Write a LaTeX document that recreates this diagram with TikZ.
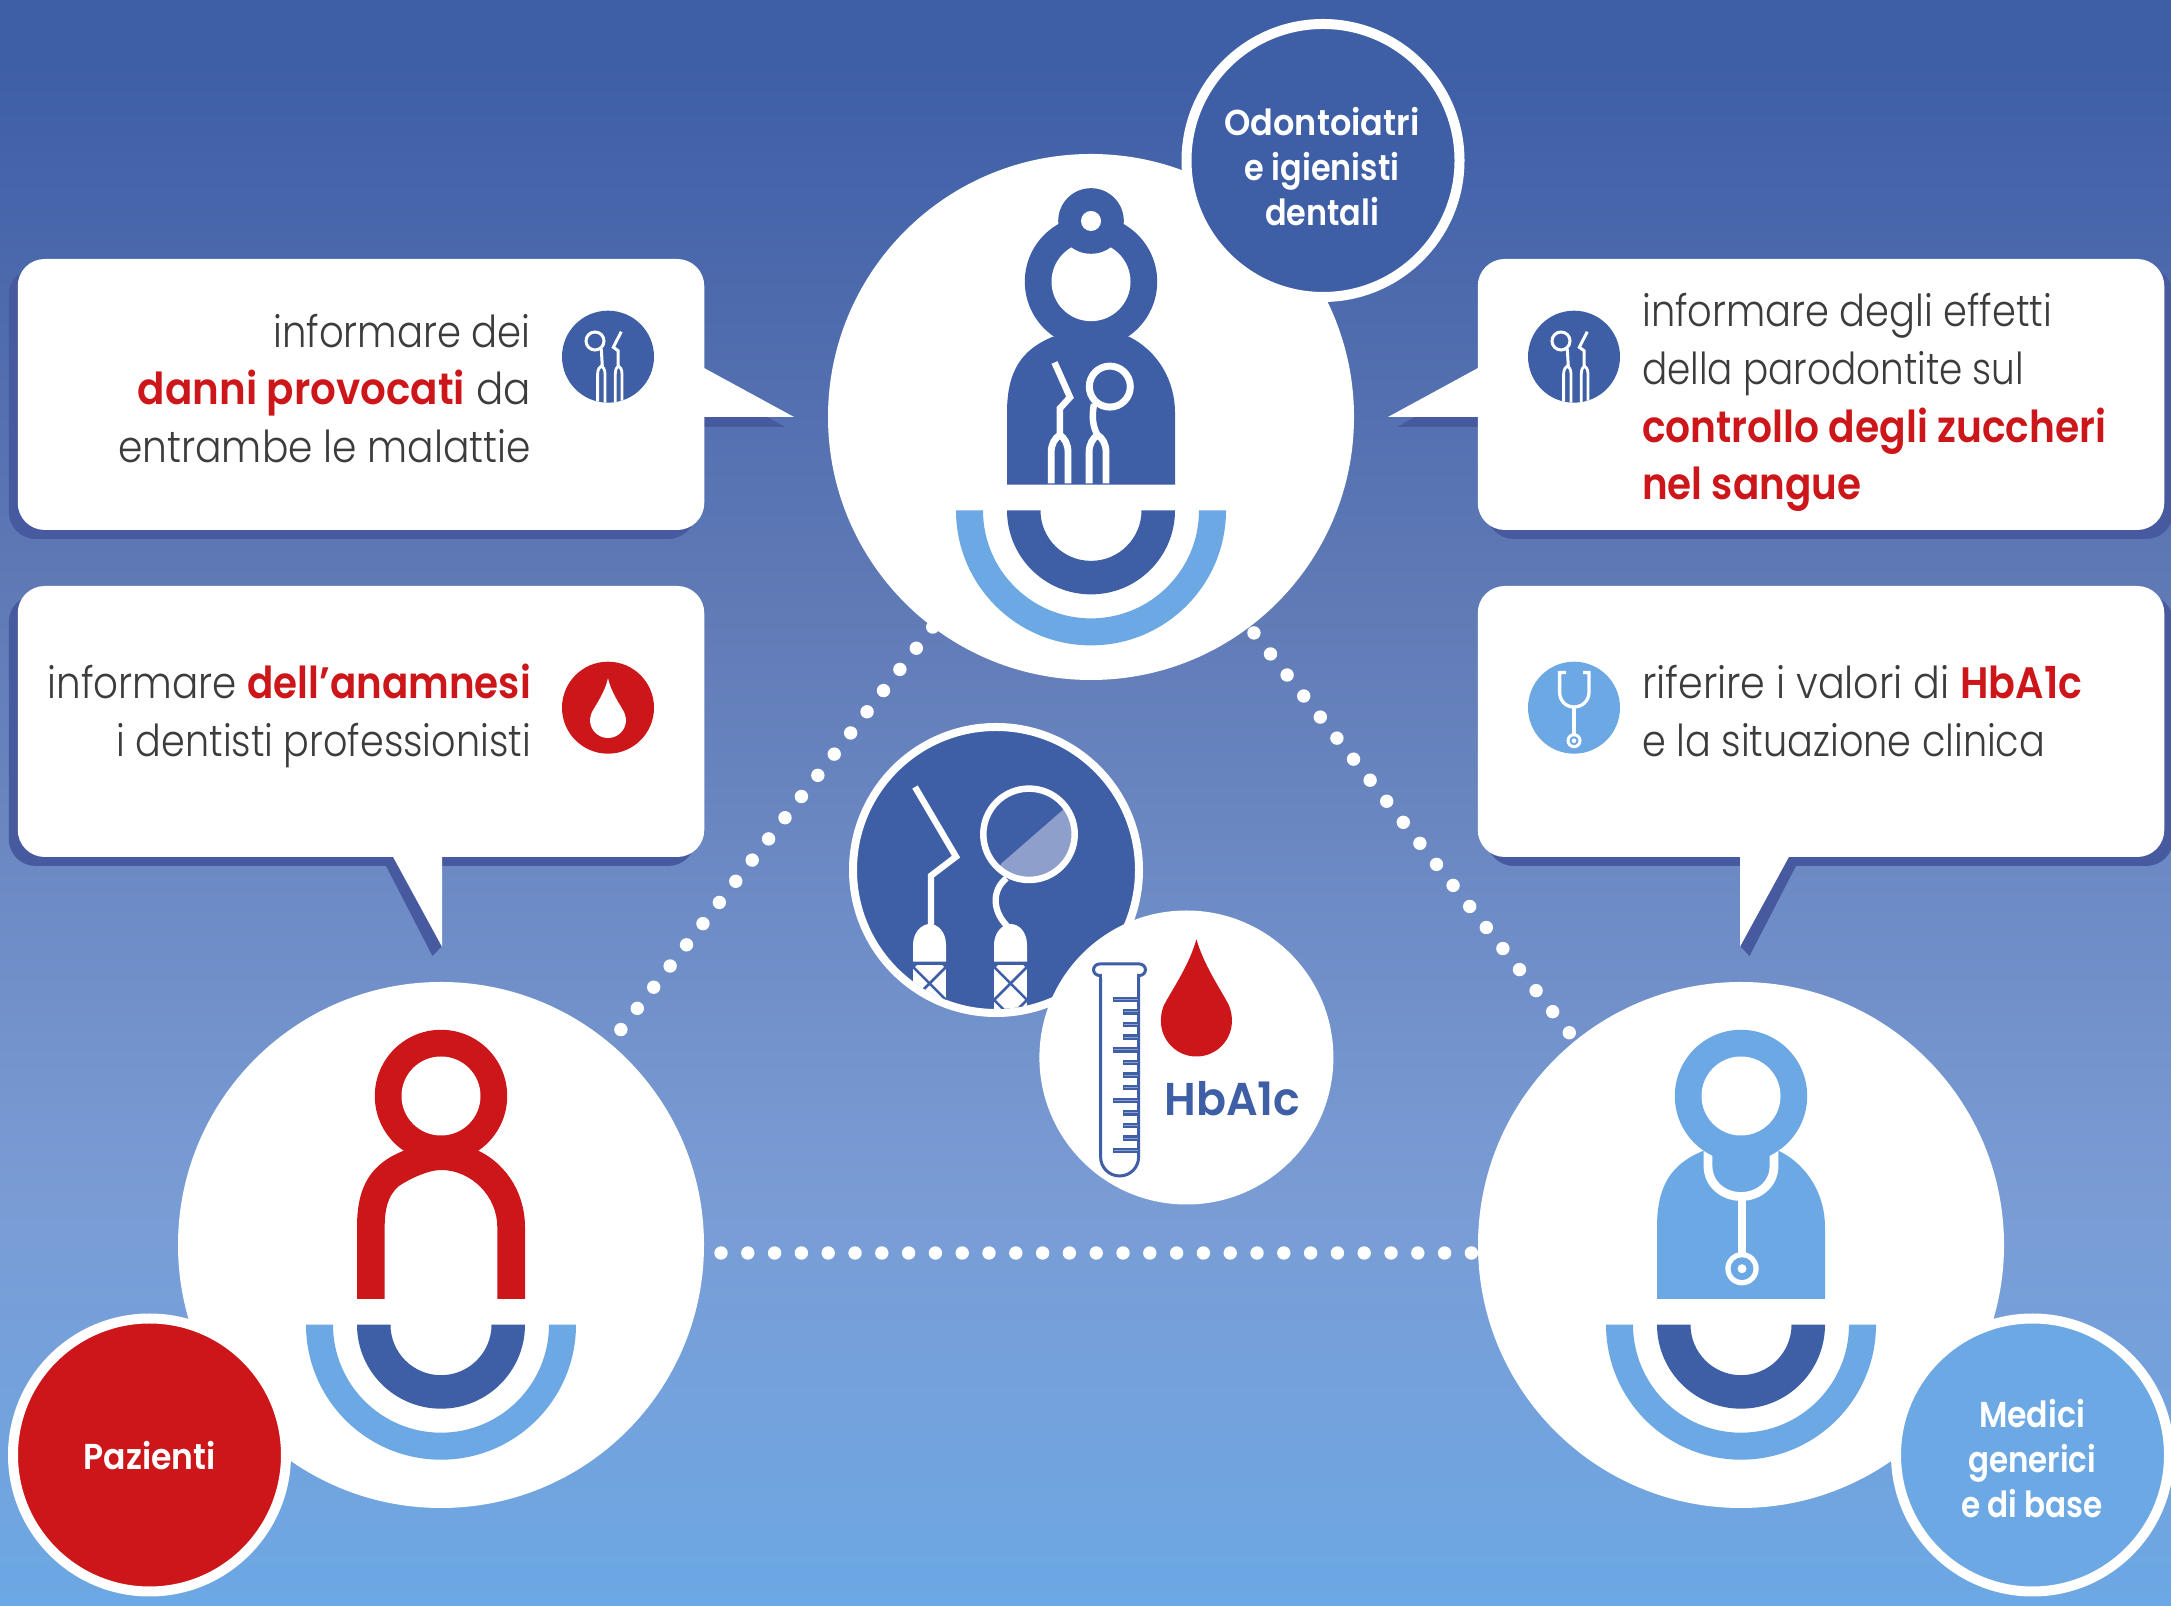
\documentclass[tikz,border=0pt]{standalone}
\usepackage{fontspec}
\usepackage{graphicx}
\setmainfont{Poppins}[UprightFont=* Light,BoldFont=* SemiBold]
\newfontfamily\medfont{Poppins}[UprightFont=* SemiBold,BoldFont=* Bold]
\definecolor{blueD}{HTML}{3E5EA6}
\definecolor{blueL}{HTML}{6CA8E4}
\definecolor{redC}{HTML}{CC1619}
\definecolor{shadowC}{HTML}{47599F}
\definecolor{textC}{HTML}{3C3C3B}
\definecolor{wedgeC}{HTML}{8F9FCB}
\definecolor{gradA}{RGB}{122,156,213}
\definecolor{gradB}{RGB}{96,122,182}
\pgfdeclareverticalshading{bggrad}{100bp}{%
 color(0bp)=(blueL);color(25bp)=(blueL);
 color(37.6bp)=(gradA);
 color(56.3bp)=(gradB);
 color(73bp)=(blueD);color(100bp)=(blueD)}
\newcommand{\fw}[2]{\resizebox{#1pt}{\height}{#2}}
\newcommand{\rb}[1]{\textcolor{redC}{\textbf{#1}}}
\tikzset{
 bigcirc/.style={circle,fill=white,minimum size=526pt,inner sep=0pt,outer sep=0pt},
 badge/.style={circle,draw=white,line width=10pt,fill=#1,minimum size=273pt,inner sep=0pt,outer sep=0pt},
 callout/.style={rectangle,rounded corners=27pt,fill=white,minimum width=686.5pt,minimum height=271pt,inner sep=0pt,outer sep=0pt},
 calloutshadow/.style={rectangle,rounded corners=27pt,fill=shadowC,minimum width=686.5pt,minimum height=271pt,inner sep=0pt},
 icondisc/.style={circle,fill=#1,minimum size=92pt,inner sep=0pt,outer sep=0pt},
 dotline/.style={white,line width=13.4pt,line cap=round,dash pattern=on 0pt off 26.8pt},
 bodytext/.style={text=textC,inner sep=0pt,font=\fontsize{44}{57.6}\selectfont},
 badgetext/.style={text=white,inner sep=0pt,align=center,font=\medfont\fontsize{36}{45}\selectfont},
 instr/.style={draw=white,line width=#1,line join=miter},
}
% person parts, origin at head centre
\newcommand{\bodyout}{(-84,203) -- (-84,131) .. controls (-84,90) and (-70,68) .. (-38,55) -- (38,55) .. controls (68,70) and (84,100) .. (84,131) -- (84,203) -- cycle}
\newcommand{\rings}{%
 \fill[blueD] (-84,228.7) arc[start angle=180,end angle=0,radius=84] -- (50.5,228.7) arc[start angle=0,end angle=180,radius=50.5] -- cycle;
 \fill[blueL] (-135,228.7) arc[start angle=180,end angle=0,radius=135] -- (108,228.7) arc[start angle=0,end angle=180,radius=108] -- cycle;}
\newcommand{\headring}[1]{%
 \fill[#1] (0,0) circle[radius=66.2];
 \fill[white] (0,0) circle[radius=39.5];}
\newcommand{\dentalicon}{%
 \begin{scope}
 \clip (1574,356.7) circle[radius=46];
 \draw[white,line width=3pt] (1561,341) circle[radius=9];
 \draw[white,line width=3pt] (1567.3,349) -- (1568.3,366);
 \draw[white,line width=2.8pt] (1563.6,405) -- (1563.6,374) .. controls (1563.6,369) and (1566,367) .. (1567.3,366) .. controls (1569,367) and (1571,369) .. (1571,374) -- (1571,405);
 \draw[white,line width=3pt] (1587.3,331.7) -- (1579.3,347.3) -- (1584,350.7) -- (1584,366);
 \draw[white,line width=2.8pt] (1581.3,405) -- (1581.3,374) .. controls (1581.3,369) and (1583,367) .. (1584.5,366) .. controls (1586,367) and (1588,369) .. (1588,374) -- (1588,405);
 \end{scope}}
\begin{document}
\begin{tikzpicture}
\useasboundingbox (0,0) rectangle (2171pt,1606pt);
\shade[shading=bggrad] (0,0) rectangle (2171pt,1606pt);
\begin{scope}[x=1pt,y=1pt,yscale=-1,shift={(0,-1606)}]
% callout shadows
\node[calloutshadow] (s1) at (352,403.5) {};
\node[calloutshadow] (s3) at (352,730.5) {};
\node[calloutshadow] (s2) at (1830,403.5) {};
\node[calloutshadow] (s4) at (1830,730.5) {};
\fill[shadowC] (704,417) -- (704,427) -- (785,427) -- (767,417) -- cycle;
\fill[shadowC] (1478,417) -- (1478,427) -- (1397,427) -- (1415,417) -- cycle;
\fill[shadowC] (384,862) -- (432.5,956) -- (442,946) -- (400,855) -- cycle;
\fill[shadowC] (1798,862) -- (1749.5,956) -- (1740,946) -- (1782,855) -- cycle;
% callouts
\node[callout] (b1) at (361,394.5) {};
\node[callout] (b3) at (361,721.5) {};
\node[callout] (b2) at (1821,394.5) {};
\node[callout] (b4) at (1821,721.5) {};
\coordinate (p1) at (794,417);
\coordinate (p2) at (1388,417);
\coordinate (p3) at (442,946.7);
\coordinate (p4) at (1740,946.7);
\fill[white] (704,368) -- (p1) -- (704,417) -- cycle;
\fill[white] (1478,368) -- (p2) -- (1478,417) -- cycle;
\fill[white] (392.6,856) -- (p3) -- (442,856) -- cycle;
\fill[white] (1789.4,856) -- (p4) -- (1740,856) -- cycle;
% big circles
\node[bigcirc] (dent) at (1091,417) {};
\node[bigcirc] (paz) at (441,1245) {};
\node[bigcirc] (med) at (1741,1245) {};
% dotted connectors
\coordinate (h1) at (704,1253);
\coordinate (h2) at (1478,1253);
\draw[dotline] (dent.233.1) -- (paz.50.4);
\draw[dotline,dash phase=19.3pt] (dent.307) -- (med.129);
\draw[dotline,dash phase=9.8pt] (h1) -- (h2);
% top figure
\begin{scope}[shift={(1091,281.7)}]
 \fill[blueD] \bodyout;
 \headring{blueD}
 \fill[blueD] (0,-60.7) circle[radius=32.8];
 \fill[white] (0,-60.7) circle[radius=10];
 \rings
\end{scope}
\draw[instr=6.5pt] (1054.5,362.5) -- (1070,397.3) -- (1059.8,408.5) -- (1059.8,436);
\draw[instr=6.8pt] (1051.2,483.5) -- (1051.2,452) .. controls (1051.2,444) and (1055,438) .. (1059.8,435) .. controls (1064.5,438) and (1068,444) .. (1068,452) -- (1068,483.5);
\draw[instr=7pt] (1109.8,386.6) circle[radius=20.5];
\draw[instr=6.5pt] (1094,404) .. controls (1092,415) and (1092,425) .. (1097.5,435);
\draw[instr=6.8pt] (1089.1,483.5) -- (1089.1,452) .. controls (1089.1,444) and (1093,438) .. (1097.5,435) .. controls (1102.5,438) and (1106,444) .. (1106,452) -- (1106,483.5);
% patient figure
\begin{scope}[shift={(441,1096)}]
 \fill[redC] (-84,203) -- (-84,131) .. controls (-84,90) and (-70,68) .. (-38,55) -- (38,55) .. controls (68,70) and (84,100) .. (84,131) -- (84,203) -- (56.3,203) -- (56.3,131) .. controls (56.3,100) and (30,74) .. (0,74) .. controls (-12,74) and (-30,82) .. (-42,90) .. controls (-54,100) and (-56.3,115) .. (-56.3,131) -- (-56.3,203) -- cycle;
 \headring{redC}
 \rings
\end{scope}
% GP figure
\begin{scope}[shift={(1741,1096)}]
 \fill[blueL] \bodyout;
 \draw[white,line width=8.8pt] (-33,48) -- (-33,70) .. controls (-33,88) and (-18,100.5) .. (0,100.5) .. controls (18,100.5) and (33,88) .. (33,70) -- (33,48);
 \headring{blueL}
 \draw[white,line width=8.8pt] (1,100) -- (1,160);
 \fill[white] (1,172.7) circle[radius=16.7];
 \fill[blueL] (1,172.7) circle[radius=11.4];
 \fill[white] (1,172.7) circle[radius=4.5];
 \rings
\end{scope}
% badges
\node[badge=blueD] (bdent) at (1323,160.5) {};
\node[badge=redC] (bpaz) at (149.5,1455) {};
\node[badge=blueL] (bmed) at (2032.5,1455) {};
\node[badgetext,anchor=base] (tdent) at (1322,225.5) {\fw{195}{Odontoiatri}\\\fw{155}{e igienisti}\\\fw{114}{dentali}};
\node[badgetext,anchor=base] (tpaz) at (149.5,1469.5) {\fw{132}{Pazienti}};
\node[badgetext,anchor=base] (tmed) at (2032,1517.5) {\fw{106}{Medici}\\\fw{128}{generici}\\\fw{142}{e di base}};
% central icon
\node[circle,draw=white,line width=8pt,fill=blueD,minimum size=286pt,inner sep=0pt,outer sep=0pt] (mirror) at (996,870) {};
\begin{scope}
 \clip (996,870) circle[radius=139];
 \fill[white] (913,961.7) -- (913,945) .. controls (913,932) and (922,924) .. (929.5,924) .. controls (938,924) and (946,932) .. (946,945) -- (946,961.7) -- cycle;
 \fill[white] (994,961.7) -- (994,945) .. controls (994,932) and (1003,924) .. (1010.5,924) .. controls (1019,924) and (1027,932) .. (1027,945) -- (1027,961.7) -- cycle;
 \fill[white] (913,965) rectangle (946,1030);
 \fill[white] (994,965) rectangle (1027,1030);
 \begin{scope}
  \clip (913,965) rectangle (946,1030);
  \foreach \k in {-1,0,1,2}{
   \draw[blueD,line width=2.5pt] (913,967+33*\k) -- (946,1000+33*\k);
   \draw[blueD,line width=2.5pt] (913,1000+33*\k) -- (946,967+33*\k);}
 \end{scope}
 \begin{scope}
  \clip (994,965) rectangle (1027,1030);
  \foreach \k in {-1,0,1,2}{
   \draw[blueD,line width=2.5pt] (994,967+33*\k) -- (1027,1000+33*\k);
   \draw[blueD,line width=2.5pt] (994,1000+33*\k) -- (1027,967+33*\k);}
 \end{scope}
\end{scope}
\draw[instr=6.3pt] (915,787) -- (956,856.7) -- (931,875.7) -- (931,928);
\begin{scope}
 \clip (1029,834.3) circle[radius=44];
 \fill[wedgeC] (1000.8,864) -- (1062.8,810) -- (1090,800) -- (1090,900) -- (1000,900) -- cycle;
\end{scope}
\draw[instr=6.5pt] (1029,834.3) circle[radius=45.7];
\draw[instr=6.3pt] (1006.5,878.3) .. controls (994,888) and (990,908) .. (1007,926);
% tube circle
\node[circle,fill=white,minimum size=294pt,inner sep=0pt,outer sep=0pt] (tube) at (1186.4,1057.5) {};
\draw[blueD,line width=3pt,fill=white] (1100.6,975.5) -- (1100.6,1157) arc[start angle=180,end angle=0,radius=19] -- (1138.6,975.5);
\draw[blueD,line width=3pt,fill=white,rounded corners=6pt] (1093.5,964) rectangle (1145.5,975.5);
\fill[white] (1102.1,973) rectangle (1137.1,978);
\foreach \i in {0,...,12}{
 \pgfmathsetmacro{\ty}{999.3+12.62*\i}
 \pgfmathtruncatemacro{\md}{mod(\i,4)}
 \ifnum\md=0
  \draw[blueD,line width=5.5pt] (1112.7,\ty) -- (1138.6,\ty);
  \draw[wedgeC,line width=1pt] (1114,\ty) -- (1138,\ty);
 \else
  \draw[blueD,line width=5.5pt] (1123,\ty) -- (1138.6,\ty);
  \draw[wedgeC,line width=1pt] (1124,\ty) -- (1138,\ty);
 \fi}
\fill[redC] (1196.4,939.3) .. controls (1189,965) and (1175,985) .. (1164,1005) .. controls (1161.5,1011) and (1160.9,1016) .. (1160.9,1021) arc[start angle=180,end angle=0,radius=35.5] .. controls (1231.9,1016) and (1231.3,1011) .. (1228.8,1005) .. controls (1218,985) and (1204,965) .. (1196.4,939.3) -- cycle;
\node[anchor=base west,inner sep=0pt,text=blueD] (hb) at (1164.4,1115.3) {\medfont\fontsize{46}{46}\selectfont\fw{136}{HbA1c}};
% small icons
\node[icondisc=blueD] (i1) at (608,356.7) {};
\node[icondisc=redC] (i3) at (608,707.7) {};
\node[icondisc=blueD] (i2) at (1574,356.7) {};
\node[icondisc=blueL] (i4) at (1574,707.7) {};
\dentalicon
\begin{scope}[shift={(-966,0)}]\dentalicon\end{scope}
\fill[white] (608,678.3) .. controls (605,692) and (597,703) .. (592,712) .. controls (590.6,716) and (590,718) .. (590,720) arc[start angle=180,end angle=0,radius=18] .. controls (626,718) and (625.4,716) .. (624,712) .. controls (619,703) and (611,692) .. (608,678.3) -- cycle;
\draw[white,line width=3.3pt] (1566,672.5) -- (1559.6,672.5) -- (1559.6,692) .. controls (1559.6,701) and (1566,707) .. (1574,707) .. controls (1582,707) and (1589,701) .. (1589,692) -- (1589,672.5) -- (1583,672.5);
\draw[white,line width=3.3pt] (1574,707) -- (1574,734);
\draw[white,line width=3pt] (1574,740.7) circle[radius=6];
\fill[white] (1574,740.7) circle[radius=2.3];
% callout texts
\node[bodytext,align=right,anchor=base east] (t1) at (531,462.4) {\fw{257.5}{informare dei}\\\fw{393}{\rb{danni provocati} da}\\\fw{412.6}{entrambe le malattie}};
\node[bodytext,align=right,anchor=base east] (t3) at (531,756.4) {\fw{483}{informare \rb{dell’anamnesi}}\\\fw{414}{i dentisti professionisti}};
\node[bodytext,align=left,anchor=base west] (t2) at (1642,499.7) {\fw{410}{informare degli effetti}\\\fw{382}{della parodontite sul}\\\fw{464}{\rb{controllo degli zuccheri}}\\\fw{219}{\rb{nel sangue}}};
\node[bodytext,align=left,anchor=base west] (t4) at (1642,756.4) {\fw{440}{riferire i valori di \rb{HbA1c}}\\\fw{403}{e la situazione clinica}};
\end{scope}
\end{tikzpicture}
\end{document}
